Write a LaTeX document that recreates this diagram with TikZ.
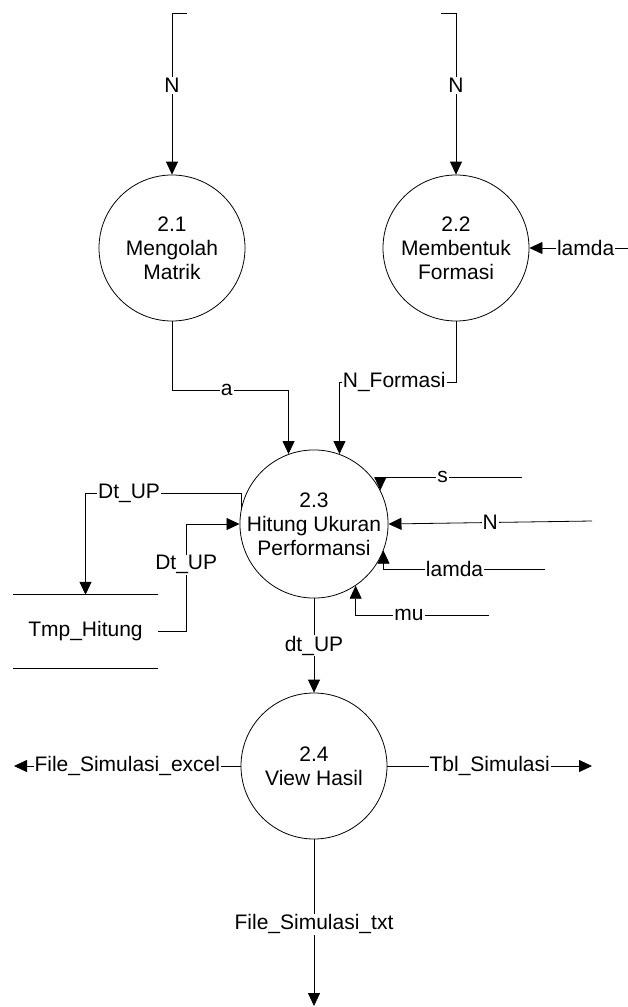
\documentclass[tikz,border=0pt]{standalone}
\usepackage{fontspec}
\setmainfont{Liberation Sans}
\usetikzlibrary{arrows.meta}

\begin{document}
\begin{tikzpicture}[x=1pt,y=-1pt,
  proc/.style={circle,draw,line width=0.8pt,minimum size=146pt,inner sep=0pt,
    align=center,font=\fontsize{21}{24}\selectfont},
  flow/.style={line width=0.8pt,-{Triangle[length=13pt,width=12pt]}},
  lbl/.style={fill=white,inner sep=1pt,font=\fontsize{21}{24}\selectfont},
  storebox/.style={minimum width=145pt,minimum height=73pt,inner sep=0pt,
    font=\fontsize{21}{24}\selectfont}]
\useasboundingbox (0,0) rectangle (628,1007);

% processes
\node[proc] (p21) at (172,248) {2.1\\Mengolah\\Matrik};
\node[proc] (p22) at (456,248) {2.2\\Membentuk\\Formasi};
\node[proc] (p23) at (314,524) {2.3\\Hitung Ukuran\\Performansi};
\node[proc] (p24) at (314,766) {2.4\\View Hasil};

% data store
\node[storebox] (store) at (85.5,631.5) {Tmp\_Hitung};
\draw[line width=0.8pt] (store.north west) -- (store.north east);
\draw[line width=0.8pt] (store.south west) -- (store.south east);

% free ends of external flows
\coordinate (inA) at (187,13);
\coordinate (inB) at (441,13);
\coordinate (inL) at (628,248);
\coordinate (inS) at (522,477);
\coordinate (inN) at (592,521);
\coordinate (inL2) at (545,569);
\coordinate (inM) at (489,615);
\coordinate (outX) at (14,766);
\coordinate (outT) at (592,766);
\coordinate (outF) at (314,1006);

% inputs to 2.1 and 2.2
\draw[flow] (inA) -- (172,13) -- node[lbl,pos=0.45]{N} (p21.north);
\draw[flow] (inB) -- (456,13) -- node[lbl,pos=0.45]{N} (p22.north);
\draw[flow] (inL) -- node[lbl,pos=0.43]{lamda} (p22.east);

% flows into 2.3
\draw[flow] (p21.south) -- ++(0,69) -| node[lbl,pos=0.235]{a} (p23.110);
\draw[flow] (p22.south) -- ++(0,61) -| node[lbl,pos=0.265]{N\_Formasi} (p23.70);
\draw[flow] (inS) -| node[lbl,pos=0.28]{s} (p23.27);
\draw[flow] (inN) -- node[lbl,pos=0.5]{N} (p23.east);
\draw[flow] (inL2) -| node[lbl,pos=0.28]{lamda} (p23.-21);
\draw[flow] (inM) -| node[lbl,pos=0.3]{mu} (p23.-56);

% exchange with the store
\draw[flow] (p23.169) -- ++(0,-16) -| node[lbl,pos=0.36]{Dt\_UP} (store.north);
\draw[flow] (store.east) -- ++(28,0) |- node[lbl,pos=0.31]{Dt\_UP} (p23.west);

% 2.3 to 2.4 and outputs
\draw[flow] (p23.south) -- node[lbl,pos=0.5]{dt\_UP} (p24.north);
\draw[flow] (p24.west) -- node[lbl,pos=0.5]{File\_Simulasi\_excel} (outX);
\draw[flow] (p24.east) -- node[lbl,pos=0.5]{Tbl\_Simulasi} (outT);
\draw[flow] (p24.south) -- node[lbl,pos=0.51]{File\_Simulasi\_txt} (outF);
\end{tikzpicture}
\end{document}
